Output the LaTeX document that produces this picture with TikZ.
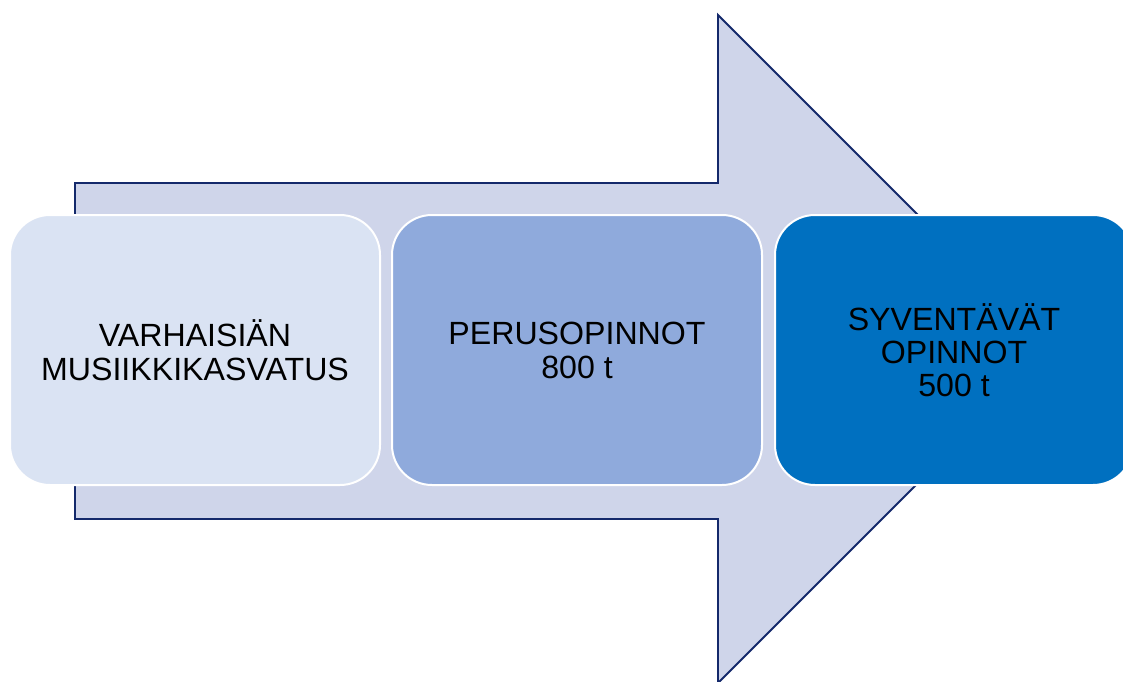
\documentclass[tikz,border=0pt]{standalone}
\usepackage{fontspec}
\setmainfont{Liberation Sans}
\usetikzlibrary{positioning}
\definecolor{arrowfill}{HTML}{CFD5EA}
\definecolor{arrowline}{HTML}{14296B}
\definecolor{stageone}{HTML}{DAE3F3}
\definecolor{stagetwo}{HTML}{8FAADC}
\definecolor{stagethree}{HTML}{0070C0}
\tikzset{stage box/.style={draw=white, line width=1.5pt, rounded corners=30pt, outer sep=0pt, minimum width=277.5pt, minimum height=202.5pt, align=center, font=\fontsize{24.1}{25.5}\selectfont}}
\tikzset{big arrow/.style={draw=arrowline, fill=arrowfill, line width=1.4pt, line join=miter}}

\begin{document}
\begin{tikzpicture}[x=0.75pt, y=-0.75pt]
\useasboundingbox (0,0) rectangle (1123,681);
\clip (0,0) rectangle (1123,681);
% background arrow
\draw[big arrow] (75,183) -- (718,183) -- (718,15) -- (1052,349) -- (718,683) -- (718,519) -- (75,519) -- cycle;
% stages
\node[stage box, fill=stageone] (early) at (195,350) {VARHAISIÄN\\MUSIIKKIKASVATUS};
\node[stage box, fill=stagetwo, right=9pt of early] (basic) {PERUSOPINNOT\\800 t};
\node[stage box, fill=stagethree, minimum width=268.5pt, right=9.75pt of basic, font=\fontsize{24.1}{24.6}\selectfont] (advanced) {SYVENTÄVÄT\\OPINNOT\\500 t};
\end{tikzpicture}
\end{document}
